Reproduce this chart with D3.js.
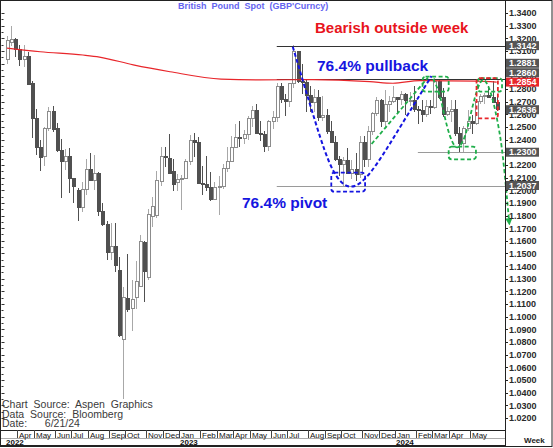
<!DOCTYPE html>
<meta charset="utf-8">
<style>
body { margin: 0; background: #fff; }
svg text { font-family: "Liberation Sans", Arial, sans-serif; }
.axis path, .axis line { stroke: #222; shape-rendering: crispEdges; }
.axis text { font-size: 9px; font-weight: bold; fill: #2a2a2a; }
.candle { shape-rendering: crispEdges; }
</style>
<body>
<div id="chart"></div>
<script src="https://d3js.org/d3.v7.min.js"></script>
<script>

// weekly bars, GBP/USD
var firstWeek = "2022-03-14", lastWeek = "2024-06-17";

var opens = [1.3035,1.3170,1.3190,1.3115,1.3030,1.3060,1.2840,1.2570,1.2335,1.2265,
  1.2485,1.2625,1.2490,1.2310,1.2225,1.2265,1.2095,1.2000,1.1860,1.2005,
  1.2165,1.2075,1.2130,1.1830,1.1730,1.1505,1.1555,1.1365,1.0820,1.1145,
  1.1065,1.1150,1.1240,1.1585,1.1310,1.1790,1.1800,1.2067,1.2270,1.2250,
  1.2145,1.2060,1.2085,1.2090,1.2225,1.2395,1.2380,1.2050,1.2045,1.2025,
  1.1930,1.2020,1.2030,1.2175,1.2230,1.2335,1.2415,1.2405,1.2440,1.2565,
  1.2630,1.2450,1.2440,1.2345,1.2540,1.2575,1.2820,1.2715,1.2700,1.2840,
  1.3095,1.2855,1.2850,1.2750,1.2695,1.2735,1.2575,1.2590,1.2465,1.2380,
  1.2240,1.2200,1.2235,1.2130,1.2160,1.2125,1.2380,1.2240,1.2460,1.2605,
  1.2710,1.2545,1.2680,1.2700,1.2730,1.2720,1.2760,1.2705,1.2710,1.2635,
  1.2630,1.2600,1.2665,1.2655,1.2860,1.2735,1.2600,1.2625,1.2635,1.2450,
  1.2370,1.2490,1.2545,1.2525,1.2700,1.2740,1.2745,1.2735,1.2690];

var highs = [1.3215,1.3298,1.3200,1.3150,1.3150,1.3090,1.2860,1.2640,1.2400,1.2500,
  1.2655,1.2665,1.2530,1.2405,1.2325,1.2330,1.2100,1.2020,1.2065,1.2245,
  1.2290,1.2275,1.2140,1.1900,1.1760,1.1740,1.1740,1.1475,1.1235,1.1495,
  1.1290,1.1440,1.1645,1.1600,1.1855,1.1950,1.2155,1.2345,1.2345,1.2445,
  1.2245,1.2125,1.2120,1.2245,1.2435,1.2450,1.2420,1.2195,1.2270,1.2145,
  1.2065,1.2115,1.2205,1.2345,1.2425,1.2525,1.2545,1.2475,1.2585,1.2668,
  1.2680,1.2545,1.2470,1.2555,1.2625,1.2850,1.2845,1.2760,1.2850,1.3144,
  1.3100,1.2995,1.2875,1.2820,1.2800,1.2790,1.2745,1.2645,1.2545,1.2425,
  1.2270,1.2265,1.2335,1.2235,1.2290,1.2430,1.2430,1.2505,1.2615,1.2735,
  1.2720,1.2795,1.2745,1.2827,1.2740,1.2785,1.2770,1.2775,1.2820,1.2665,
  1.2710,1.2710,1.2710,1.2890,1.2870,1.2805,1.2660,1.2710,1.2710,1.2500,
  1.2510,1.2635,1.2595,1.2710,1.2760,1.2765,1.2820,1.2860,1.2740];

var lows = [1.3000,1.3140,1.3050,1.2980,1.2975,1.2830,1.2410,1.2275,1.2155,1.2190,
  1.2470,1.2460,1.2300,1.1935,1.2160,1.1975,1.1900,1.1760,1.1825,1.1960,
  1.2070,1.2005,1.1800,1.1715,1.1445,1.1450,1.1350,1.0840,1.0350,1.1040,
  1.0890,1.1060,1.1240,1.1120,1.1290,1.1710,1.1780,1.2030,1.2180,1.2125,
  1.1995,1.1990,1.1845,1.2085,1.2200,1.2260,1.2045,1.1960,1.1990,1.1915,
  1.1920,1.1805,1.2010,1.2140,1.2220,1.2330,1.2345,1.2365,1.2400,1.2500,
  1.2445,1.2390,1.2305,1.2310,1.2480,1.2540,1.2685,1.2590,1.2660,1.2805,
  1.2845,1.2760,1.2620,1.2615,1.2615,1.2550,1.2550,1.2445,1.2380,1.2230,
  1.2110,1.2037,1.2125,1.2090,1.2070,1.2095,1.2185,1.2185,1.2435,1.2590,
  1.2500,1.2500,1.2615,1.2690,1.2610,1.2670,1.2595,1.2665,1.2620,1.2520,
  1.2535,1.2575,1.2605,1.2645,1.2720,1.2575,1.2590,1.2540,1.2425,1.2300,
  1.2300,1.2465,1.2445,1.2515,1.2680,1.2680,1.2735,1.2690,1.2625];

var closes = [1.3180,1.3190,1.3115,1.3035,1.3060,1.2835,1.2570,1.2335,1.2260,1.2485,
  1.2625,1.2480,1.2310,1.2225,1.2265,1.2095,1.2030,1.1860,1.2005,1.2165,
  1.2075,1.2130,1.1830,1.1730,1.1505,1.1555,1.1405,1.0855,1.1150,1.1055,
  1.1140,1.1275,1.1595,1.1355,1.1805,1.1870,1.2075,1.2265,1.2255,1.2135,
  1.2045,1.2085,1.2090,1.2225,1.2395,1.2380,1.2050,1.2045,1.2025,1.1930,
  1.2020,1.2030,1.2175,1.2230,1.2335,1.2415,1.2405,1.2440,1.2565,1.2630,
  1.2450,1.2440,1.2345,1.2540,1.2575,1.2820,1.2715,1.2700,1.2840,1.3095,
  1.2855,1.2850,1.2750,1.2695,1.2735,1.2575,1.2590,1.2465,1.2380,1.2240,
  1.2200,1.2235,1.2130,1.2160,1.2125,1.2380,1.2240,1.2460,1.2605,1.2710,
  1.2545,1.2680,1.2700,1.2730,1.2720,1.2760,1.2705,1.2710,1.2635,1.2630,
  1.2600,1.2665,1.2655,1.2860,1.2735,1.2600,1.2625,1.2635,1.2450,1.2370,
  1.2490,1.2545,1.2525,1.2700,1.2740,1.2745,1.2735,1.2690,1.2636];

// moving average (red), read at a few dates
var maDates  = ["2022-03-14","2022-05-09","2022-07-20","2022-08-17","2022-10-13","2022-12-14",
  "2023-03-10","2023-05-15","2023-08-12","2023-11-16","2023-12-25","2024-02-08","2024-05-14","2024-06-17"];
var maValues = [1.3122,1.3094,1.3068,1.3052,1.2990,1.2936,
  1.2878,1.2871,1.2874,1.2858,1.2845,1.2866,1.2862,1.2854];

// horizontal levels: start date, value, colour
var levels = [
  ["2023-06-12", 1.3142, "#333"],
  ["2023-06-12", 1.2881, "#333"],
  ["2023-06-12", 1.2037, "#9a9a9a"],
  ["2024-02-05", 1.2300, "#9a9a9a"]
];

// price tags on the right axis
var tagValues = [1.3142, 1.2881, 1.2860, 1.2854, 1.2636, 1.2300, 1.2037];
var tagFills  = ["#555", "#555", "#555", "#e8262b", "#555", "#555", "#555"];

var tickValues = d3.range(102, 135).map(d => d / 100);

// hand-drawn annotations
var blueCurve = [["2023-07-09",1.3134],["2023-08-18",1.2502],["2023-09-14",1.2120],["2023-10-14",1.1985],
  ["2023-11-16",1.2110],["2023-12-31",1.2452],["2024-02-28",1.2902]];
var greenLine = [["2023-11-19",1.2365],["2024-02-22",1.2890]];
var greenCurve = [["2024-03-02",1.2879],["2024-03-13",1.2768],["2024-03-21",1.2578],["2024-03-30",1.2420],
  ["2024-04-08",1.2330],["2024-04-16",1.2340],["2024-04-25",1.2420],["2024-05-03",1.2578],
  ["2024-05-11",1.2736],["2024-05-20",1.2860],["2024-05-26",1.2880],["2024-06-02",1.2840],
  ["2024-06-11",1.2713],["2024-06-19",1.2531],["2024-06-27",1.2318],["2024-07-08",1.1750]];
var boxes = [
  ["2023-09-12","2023-11-08",1.2138,1.1988,"#1515e0"],
  ["2024-02-13","2024-03-28",1.2897,1.2778,"#1fae4a"],
  ["2024-03-28","2024-05-13",1.2344,1.2244,"#1fae4a"],
  ["2024-05-16","2024-06-26",1.2886,1.2778,"#1fae4a"],
  ["2024-05-14","2024-06-19",1.2886,1.2568,"#e8262b"]
];

var W = 553, H = 448;
var plotRight = 505, bandTop = 430;

var parse = d3.timeParse("%Y-%m-%d");
var weeks = d3.timeMonday.range(parse(firstWeek), d3.timeDay.offset(parse(lastWeek), 1));
var data = weeks.map((d, i) => ({date: d, o: opens[i], h: highs[i], l: lows[i], c: closes[i]}));

var svg = d3.select("#chart").append("svg")
    .attr("width", W)
    .attr("height", H);

var x = d3.scaleTime()
    .domain([weeks[0], weeks[weeks.length - 1]])
    .range([7, 496.7]);

var y = d3.scaleLinear()
    .domain([1.02, 1.34])
    .range([418, 13]);

//////////////// candles ////////////////
var cx = d => Math.round(x(d.date)) + 0.5;
var up = d => d.c >= d.o;

var candles = svg.append("g").attr("class", "candle");

candles.selectAll(".wick")
    .data(data)
    .enter().append("line")
    .attr("x1", cx).attr("x2", cx)
    .attr("y1", d => y(d.h)).attr("y2", d => y(d.l))
    .attr("stroke", d => up(d) ? "#a8a8a8" : "#505050")
    .attr("stroke-width", 1);

candles.selectAll(".body")
    .data(data)
    .enter().append("rect")
    .attr("x", d => cx(d) - 1.5)
    .attr("width", 3)
    .attr("y", d => y(Math.max(d.o, d.c)))
    .attr("height", d => Math.max(1, Math.abs(y(d.o) - y(d.c))))
    .attr("fill", d => up(d) ? "#fff" : "#505050")
    .attr("stroke", d => up(d) ? "#8c8c8c" : "#505050")
    .attr("stroke-width", 1);

//////////////// levels + moving average ////////////////
svg.selectAll(".level")
    .data(levels)
    .enter().append("line")
    .attr("x1", d => x(parse(d[0])))
    .attr("x2", plotRight)
    .attr("y1", d => Math.round(y(d[1])) + 0.5)
    .attr("y2", d => Math.round(y(d[1])) + 0.5)
    .attr("stroke", d => d[2])
    .attr("stroke-width", 1);

var maLine = d3.line()
    .curve(d3.curveMonotoneX)
    .x(d => x(parse(d[0])))
    .y(d => y(d[1]));

svg.append("path")
    .datum(maDates.map((d, i) => [d, maValues[i]]))
    .attr("d", maLine)
    .attr("fill", "none")
    .attr("stroke", "#e8262b")
    .attr("stroke-width", 1.2);

//////////////// annotations ////////////////
svg.append("defs").append("marker")
    .attr("id", "arrow")
    .attr("viewBox", "0 0 10 10")
    .attr("refX", 5).attr("refY", 5)
    .attr("markerWidth", 4).attr("markerHeight", 4)
    .attr("orient", "auto")
  .append("path")
    .attr("d", "M0,0L10,5L0,10z")
    .attr("fill", "#1fae4a");

var curve = d3.line()
    .curve(d3.curveBasis)
    .x(d => x(parse(d[0])))
    .y(d => y(d[1]));

svg.append("path")
    .datum(blueCurve)
    .attr("d", curve)
    .attr("fill", "none")
    .attr("stroke", "#1515e0")
    .attr("stroke-width", 2)
    .attr("stroke-dasharray", "4,2.5");

svg.append("path")
    .datum(greenLine)
    .attr("d", curve)
    .attr("fill", "none")
    .attr("stroke", "#1fae4a")
    .attr("stroke-width", 1.8)
    .attr("stroke-dasharray", "4,2.5");

svg.append("path")
    .datum(greenCurve)
    .attr("d", curve)
    .attr("fill", "none")
    .attr("stroke", "#1fae4a")
    .attr("stroke-width", 1.8)
    .attr("stroke-dasharray", "4,2.5")
    .attr("marker-end", "url(#arrow)");

svg.selectAll(".box")
    .data(boxes)
    .enter().append("rect")
    .attr("x", d => x(parse(d[0])))
    .attr("y", d => y(d[2]))
    .attr("width", d => x(parse(d[1])) - x(parse(d[0])))
    .attr("height", d => y(d[3]) - y(d[2]))
    .attr("rx", 3).attr("ry", 3)
    .attr("fill", "none")
    .attr("stroke", d => d[4])
    .attr("stroke-width", 1.8)
    .attr("stroke-dasharray", "4,2.5");

svg.append("text")
    .text("Bearish outside week")
    .attr("x", 315).attr("y", 33)
    .attr("fill", "#e8141c")
    .style("font-size", "15px").style("font-weight", "bold");

svg.append("text")
    .text("76.4% pullback")
    .attr("x", 317).attr("y", 71)
    .attr("fill", "#1515e0")
    .style("font-size", "15.5px").style("font-weight", "bold");

svg.append("text")
    .text("76.4% pivot")
    .attr("x", 242).attr("y", 208)
    .attr("fill", "#1515e0")
    .style("font-size", "15.5px").style("font-weight", "bold");

svg.append("text")
    .text("British Pound Spot (GBP'Curncy)")
    .attr("x", 178).attr("y", 9)
    .attr("fill", "#6464f0")
    .style("font-size", "9px").style("font-weight", "bold")
    .style("word-spacing", "2.5px");

var credits = ["Chart Source: Aspen Graphics", "Data Source: Bloomberg", "Date:   6/21/24"];
svg.selectAll(".credit")
    .data(credits)
    .enter().append("text")
    .text(d => d)
    .attr("x", 2)
    .attr("y", (d, i) => 408 + i * 9.5)
    .attr("fill", "#3a3a3a")
    .style("font-size", "10.5px")
    .style("word-spacing", "3px")
    .style("white-space", "pre");

//////////////// right axis ////////////////
// left-edge minor ticks
svg.append("g")
    .selectAll("line")
    .data(d3.range(204, 269).map(d => d / 200))
    .enter().append("line")
    .attr("x1", 1.5)
    .attr("x2", (d, i) => i % 2 ? 3.5 : 4.5)
    .attr("y1", d => Math.round(y(d)) + 0.5)
    .attr("y2", d => Math.round(y(d)) + 0.5)
    .attr("stroke", "#333")
    .attr("stroke-width", 1);

svg.append("g")
    .attr("class", "axis")
    .attr("transform", "translate(" + plotRight + ",0)")
    .call(d3.axisRight(y)
        .tickValues(tickValues)
        .tickFormat(d3.format(".4f"))
        .tickSize(3)
        .tickPadding(1))
    .call(g => g.select(".domain").remove());

svg.append("line")
    .attr("x1", plotRight + 0.5).attr("x2", plotRight + 0.5)
    .attr("y1", 0).attr("y2", H - 2)
    .attr("stroke", "#222");

// price tags, stacked upward when they collide
var tagData = tagValues.map((v, i) => ({v: v, fill: tagFills[i]}))
    .sort((a, b) => a.v - b.v);
var lastY = Infinity;
tagData.forEach(d => {
    d.y = Math.min(y(d.v), lastY - 9.4);
    lastY = d.y;
});

var tags = svg.selectAll(".tag")
    .data(tagData)
    .enter().append("g")
    .attr("transform", d => "translate(" + (plotRight + 1) + "," + d.y + ")");

tags.append("rect")
    .attr("x", 0).attr("y", -4.5)
    .attr("width", 33).attr("height", 9)
    .attr("fill", d => d.fill);

tags.append("text")
    .text(d => d3.format(".4f")(d.v))
    .attr("x", 3).attr("dy", "0.35em")
    .attr("fill", "#fff")
    .style("font-size", "9px").style("font-weight", "bold");

//////////////// time band ////////////////
svg.append("rect")
    .attr("x", 0.5).attr("y", bandTop + 0.5)
    .attr("width", plotRight).attr("height", H - bandTop - 3)
    .attr("fill", "#fff")
    .attr("stroke", "#222");

svg.append("line")
    .attr("x1", 0).attr("x2", plotRight)
    .attr("y1", 438.5).attr("y2", 438.5)
    .attr("stroke", "#aaa");

var months = d3.timeMonth.range(new Date(2022, 3, 1), new Date(2024, 5, 1))
    .map(m => d3.timeMonday.ceil(m));
var fmtMonth = d3.timeFormat("%b");

var mth = svg.selectAll(".month")
    .data(months)
    .enter().append("g")
    .attr("transform", d => "translate(" + (Math.round(x(d)) - 1.5) + ",0)");

mth.append("line")
    .attr("y1", bandTop).attr("y2", 438)
    .attr("stroke", "#444");

mth.append("text")
    .text(fmtMonth)
    .attr("x", 1.5).attr("y", 437.5)
    .attr("fill", "#111")
    .style("font-size", "8px");

var years = [new Date(2022, 2, 14), new Date(2023, 0, 2), new Date(2024, 0, 1)];
svg.selectAll(".year")
    .data(years)
    .enter().append("text")
    .text(d3.timeFormat("%Y"))
    .attr("x", d => Math.round(x(d)) - 1)
    .attr("y", 445)
    .attr("fill", "#111")
    .style("font-size", "8px").style("font-weight", "bold");

svg.append("text")
    .text("Week")
    .attr("x", 524).attr("y", 443)
    .attr("fill", "#222")
    .style("font-size", "8px").style("font-weight", "bold");

// frame
svg.append("rect")
    .attr("x", 0.5).attr("y", 0.5)
    .attr("width", W - 1.5).attr("height", H - 2)
    .attr("fill", "none")
    .attr("stroke", "#222");

</script>
